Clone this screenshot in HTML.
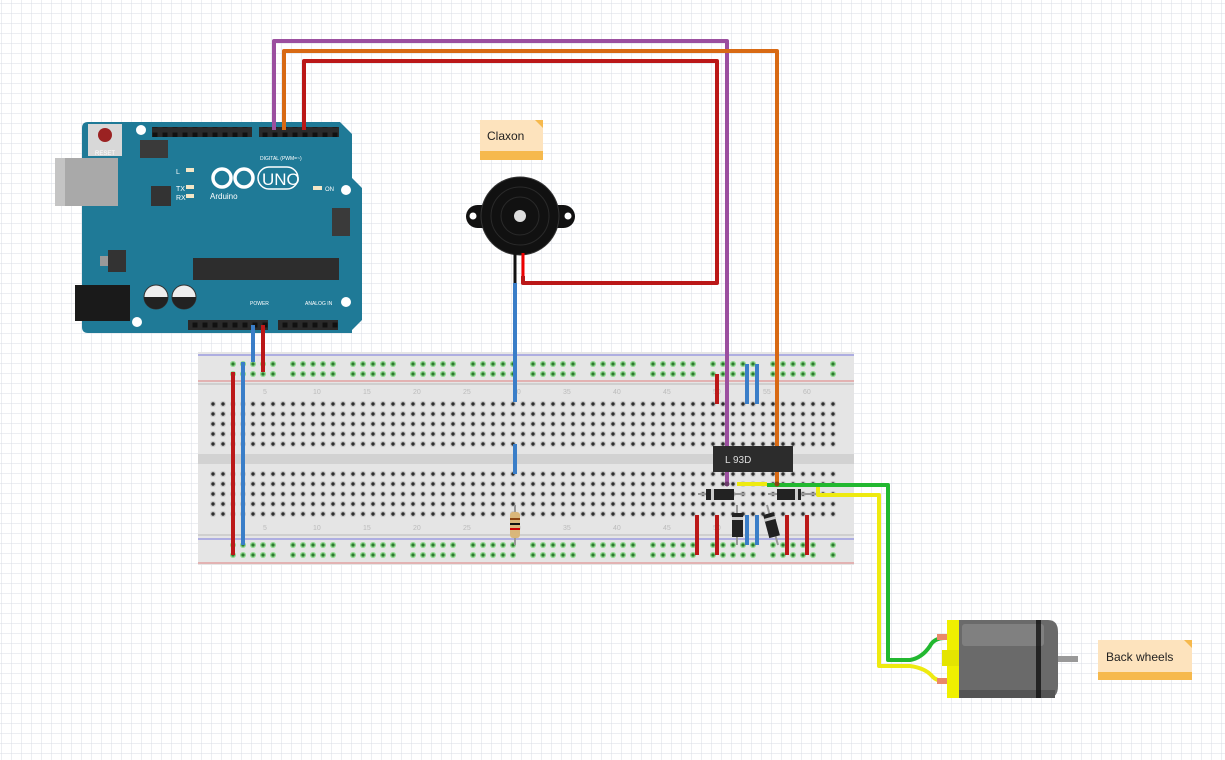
<!DOCTYPE html>
<html><head><meta charset="utf-8"><style>
html,body{margin:0;padding:0;background:#fff;}
svg{display:block;}
text{font-family:"Liberation Sans",sans-serif;}
</style></head><body>
<svg width="1225" height="760" viewBox="0 0 1225 760" xmlns="http://www.w3.org/2000/svg">
<defs>
<pattern id="grid" x="1" y="3" width="10" height="10" patternUnits="userSpaceOnUse">
<path d="M0 0H10M0 0V10" stroke="#d8dce6" stroke-width="1" fill="none"/>
</pattern>
<pattern id="holes" x="208" y="399" width="10" height="10" patternUnits="userSpaceOnUse">
<circle cx="5" cy="5" r="3" fill="#c8c8c8"/><circle cx="5" cy="5" r="1.7" fill="#2e2e2e"/>
</pattern>
<pattern id="rail" x="228" y="359" width="60" height="10" patternUnits="userSpaceOnUse">
<g fill="#8fd88f"><circle cx="5" cy="5" r="3"/><circle cx="15" cy="5" r="3"/><circle cx="25" cy="5" r="3"/><circle cx="35" cy="5" r="3"/><circle cx="45" cy="5" r="3"/></g>
<g fill="#2f7a2f"><circle cx="5" cy="5" r="1.6"/><circle cx="15" cy="5" r="1.6"/><circle cx="25" cy="5" r="1.6"/><circle cx="35" cy="5" r="1.6"/><circle cx="45" cy="5" r="1.6"/></g>
</pattern>
<pattern id="rail2" x="228" y="540" width="60" height="10" patternUnits="userSpaceOnUse">
<g fill="#8fd88f"><circle cx="5" cy="5" r="3"/><circle cx="15" cy="5" r="3"/><circle cx="25" cy="5" r="3"/><circle cx="35" cy="5" r="3"/><circle cx="45" cy="5" r="3"/></g>
<g fill="#2f7a2f"><circle cx="5" cy="5" r="1.6"/><circle cx="15" cy="5" r="1.6"/><circle cx="25" cy="5" r="1.6"/><circle cx="35" cy="5" r="1.6"/><circle cx="45" cy="5" r="1.6"/></g>
</pattern>
<pattern id="hdr" x="0" y="0" width="10" height="10" patternUnits="userSpaceOnUse">
<rect x="2.5" y="2.5" width="5" height="5" fill="#111"/>
</pattern>
</defs>
<rect width="1225" height="760" fill="url(#grid)"/>

<!-- Breadboard -->
<rect x="198" y="352" width="656" height="213" fill="#e5e5e5"/>
<line x1="198" y1="355" x2="854" y2="355" stroke="#7777dd" stroke-width="1"/>
<line x1="198" y1="381" x2="854" y2="381" stroke="#e08080" stroke-width="1"/>
<line x1="198" y1="384" x2="854" y2="384" stroke="#cfcfcf" stroke-width="2"/>
<rect x="198" y="454" width="656" height="10" fill="#d2d2d2"/>
<line x1="198" y1="535" x2="854" y2="535" stroke="#cfcfcf" stroke-width="2"/>
<line x1="198" y1="539" x2="854" y2="539" stroke="#7777dd" stroke-width="1"/>
<line x1="198" y1="563" x2="854" y2="563" stroke="#e08080" stroke-width="1"/>
<rect x="228" y="359" width="610" height="20" fill="url(#rail)"/>
<rect x="228" y="540" width="610" height="20" fill="url(#rail2)"/>
<rect x="208" y="399" width="630" height="50" fill="url(#holes)"/>
<rect x="208" y="469" width="630" height="50" fill="url(#holes)"/>
<g font-size="7" fill="#bbb">
<text x="263" y="394">5</text><text x="313" y="394">10</text><text x="363" y="394">15</text><text x="413" y="394">20</text><text x="463" y="394">25</text><text x="513" y="394">30</text><text x="563" y="394">35</text><text x="613" y="394">40</text><text x="663" y="394">45</text><text x="713" y="394">50</text><text x="763" y="394">55</text><text x="803" y="394">60</text>
<text x="263" y="530">5</text><text x="313" y="530">10</text><text x="363" y="530">15</text><text x="413" y="530">20</text><text x="463" y="530">25</text><text x="513" y="530">30</text><text x="563" y="530">35</text><text x="613" y="530">40</text><text x="663" y="530">45</text><text x="713" y="530">50</text>
</g>

<!-- Arduino -->
<path d="M88 122 H340 L352 134 V178 L362 188 V320 L352 330 V333 H88 Q82 333 82 327 V128 Q82 122 88 122Z" fill="#1f7a97"/>
<rect x="55" y="158" width="63" height="48" fill="#a9a9a9"/><rect x="55" y="158" width="10" height="48" fill="#c4c4c4"/>
<rect x="75" y="285" width="55" height="36" fill="#1a1a1a"/>
<rect x="88" y="124" width="34" height="32" fill="#d8d8d8"/><circle cx="105" cy="135" r="7" fill="#9b2222"/>
<text x="95" y="155" font-size="6" fill="#fff">RESET</text>
<rect x="152" y="127" width="100" height="10" fill="#2a2a2a"/><rect x="152" y="127" width="100" height="10" fill="url(#hdr)"/>
<rect x="259" y="127" width="80" height="10" fill="#2a2a2a"/><rect x="259" y="127" width="80" height="10" fill="url(#hdr)"/>
<rect x="188" y="320" width="80" height="10" fill="#2a2a2a"/><rect x="188" y="320" width="80" height="10" fill="url(#hdr)"/>
<rect x="278" y="320" width="60" height="10" fill="#2a2a2a"/><rect x="278" y="320" width="60" height="10" fill="url(#hdr)"/>
<rect x="140" y="140" width="28" height="18" fill="#3a3a3a"/>
<rect x="332" y="208" width="18" height="28" fill="#3a3a3a"/>
<circle cx="141" cy="130" r="5" fill="#fff"/><circle cx="346" cy="190" r="5" fill="#fff"/><circle cx="346" cy="302" r="5" fill="#fff"/><circle cx="137" cy="322" r="5" fill="#fff"/>
<rect x="151" y="186" width="20" height="20" fill="#333"/>
<rect x="108" y="250" width="18" height="22" fill="#333"/><rect x="100" y="256" width="8" height="10" fill="#999"/>
<rect x="193" y="258" width="146" height="22" fill="#2d2d2d"/>
<circle cx="156" cy="297" r="12" fill="#eee" stroke="#333"/><path d="M144 297 A12 12 0 0 0 168 297Z" fill="#222"/>
<circle cx="184" cy="297" r="12" fill="#eee" stroke="#333"/><path d="M172 297 A12 12 0 0 0 196 297Z" fill="#222"/>
<g fill="none" stroke="#fff" stroke-width="3.5"><circle cx="222" cy="178" r="9"/><circle cx="244" cy="178" r="9"/></g>
<rect x="258" y="167" width="40" height="22" rx="11" fill="none" stroke="#fff" stroke-width="1.5"/>
<text x="262" y="185" font-size="17" fill="#fff">UNO</text>
<text x="210" y="199" font-size="8" fill="#fff">Arduino</text>
<text x="176" y="174" font-size="7" fill="#fff">L</text><text x="176" y="191" font-size="7" fill="#fff">TX</text><text x="176" y="200" font-size="7" fill="#fff">RX</text>
<rect x="186" y="168" width="8" height="4" fill="#f4e6c6"/><rect x="186" y="185" width="8" height="4" fill="#f4e6c6"/><rect x="186" y="194" width="8" height="4" fill="#f4e6c6"/>
<rect x="313" y="186" width="9" height="4" fill="#f4e6c6"/><text x="325" y="191" font-size="6" fill="#fff">ON</text>
<text x="260" y="160" font-size="5" fill="#fff">DIGITAL (PWM=~)</text>
<text x="250" y="305" font-size="5" fill="#fff">POWER</text><text x="305" y="305" font-size="5" fill="#fff">ANALOG IN</text>

<!-- Buzzer -->
<rect x="466" y="205" width="109" height="23" rx="11.5" fill="#111"/>
<circle cx="473" cy="216" r="3.5" fill="#fff"/><circle cx="568" cy="216" r="3.5" fill="#fff"/>
<circle cx="520" cy="216" r="39" fill="#111" stroke="#333"/>
<circle cx="520" cy="216" r="29" fill="none" stroke="#2a2a2a"/><circle cx="520" cy="216" r="19" fill="none" stroke="#2a2a2a"/>
<circle cx="520" cy="216" r="6" fill="#ddd"/>
<line x1="515" y1="253" x2="515" y2="283" stroke="#111" stroke-width="3"/>
<line x1="523" y1="253" x2="523" y2="283" stroke="#e00" stroke-width="3"/>

<!-- Wires -->
<g fill="none" stroke-width="4" stroke-linejoin="round">
<path d="M274 130 V41 H727 V484" stroke="#9b4f9f"/>
<path d="M284 130 V51 H777 V484" stroke="#d86a14"/>
<path d="M304 130 V61 H717 V283 H523 V276" stroke="#bb1818"/>
<path d="M515 283 V402" stroke="#3a7ec8"/>
<path d="M515 444 V474" stroke="#3a7ec8"/>
<path d="M253 325 V362" stroke="#3a7ec8"/>
<path d="M263 325 V372" stroke="#bb1818"/>
<path d="M233 372 V555" stroke="#bb1818"/>
<path d="M243 362 V545" stroke="#3a7ec8"/>
<path d="M717 374 V404" stroke="#bb1818"/>
<path d="M747 364 V404" stroke="#3a7ec8"/>
<path d="M757 364 V404" stroke="#3a7ec8"/>
<path d="M697 515 V555" stroke="#bb1818"/>
<path d="M717 515 V555" stroke="#bb1818"/>
<path d="M787 515 V555" stroke="#bb1818"/>
<path d="M807 515 V555" stroke="#bb1818"/>
<path d="M747 515 V545" stroke="#3a7ec8"/>
<path d="M757 515 V545" stroke="#3a7ec8"/>
<path d="M737 484 H767" stroke="#eeea10"/>
<path d="M818 487 V495 H879 V666 H910 Q925 668 932 676 Q936 681 945 681" stroke="#eeea10"/>
<path d="M767 485 H888 V660 H910 Q922 658 930 646 Q934 638 945 638" stroke="#22b830"/>
</g>
<circle cx="727" cy="484" r="2.5" fill="#6b3a6b"/><circle cx="777" cy="484" r="2.5" fill="#8a4510"/>

<!-- L293D -->
<rect x="713" y="446" width="80" height="26" fill="#2c2c2c"/>
<text x="725" y="463" font-size="10" fill="#ddd">L 93D</text>
<!-- diodes -->
<line x1="698" y1="494" x2="745" y2="494" stroke="#999" stroke-width="2"/>
<rect x="706" y="489" width="28" height="11" fill="#222"/><rect x="711" y="489" width="3" height="11" fill="#ccc"/>
<line x1="768" y1="494" x2="816" y2="494" stroke="#999" stroke-width="2"/>
<rect x="777" y="489" width="24" height="11" fill="#222"/><rect x="795" y="489" width="3" height="11" fill="#ccc"/>
<line x1="737" y1="505" x2="737" y2="545" stroke="#999" stroke-width="2"/>
<rect x="732" y="513" width="11" height="24" fill="#222"/><rect x="732" y="517" width="11" height="3" fill="#ccc"/>
<line x1="767" y1="505" x2="778" y2="545" stroke="#999" stroke-width="2"/>
<g transform="rotate(-15 772 525)"><rect x="766" y="513" width="11" height="24" fill="#222"/><rect x="766" y="517" width="11" height="3" fill="#ccc"/></g>
<!-- resistor -->
<line x1="515" y1="505" x2="515" y2="545" stroke="#999" stroke-width="2"/>
<rect x="510" y="512" width="10" height="26" rx="3" fill="#d9b77a"/>
<rect x="510" y="518" width="10" height="2" fill="#8b4513"/><rect x="510" y="523" width="10" height="2" fill="#111"/><rect x="510" y="528" width="10" height="2" fill="#c00"/>

<!-- Motor -->
<rect x="947" y="620" width="12" height="78" fill="#f0f000"/>
<rect x="942" y="650" width="20" height="16" fill="#e4e400"/>
<path d="M959 620 H1048 Q1058 620 1058 632 V686 Q1058 698 1048 698 H959Z" fill="#6a6a6a"/>
<rect x="962" y="624" width="82" height="22" rx="3" fill="#808080"/>
<rect x="959" y="690" width="96" height="8" fill="#555"/>
<rect x="1036" y="620" width="5" height="78" fill="#111" opacity="0.8"/>
<rect x="1058" y="656" width="20" height="6" fill="#999"/>
<rect x="937" y="634" width="10" height="6" fill="#e9896a"/><rect x="937" y="678" width="10" height="6" fill="#e9896a"/>

<!-- notes -->
<rect x="480" y="120" width="63" height="40" fill="#fde3bd"/>
<rect x="480" y="151" width="63" height="9" fill="#f6b94d"/>
<path d="M535 120 H543 V128Z" fill="#f6b94d"/>
<text x="487" y="140" font-size="12" fill="#222">Claxon</text>
<rect x="1098" y="640" width="94" height="40" fill="#fde3bd"/>
<rect x="1098" y="672" width="94" height="8" fill="#f6b94d"/>
<path d="M1184 640 H1192 V648Z" fill="#f6b94d"/>
<text x="1106" y="661" font-size="12" fill="#222">Back wheels</text>
</svg>
</body></html>
